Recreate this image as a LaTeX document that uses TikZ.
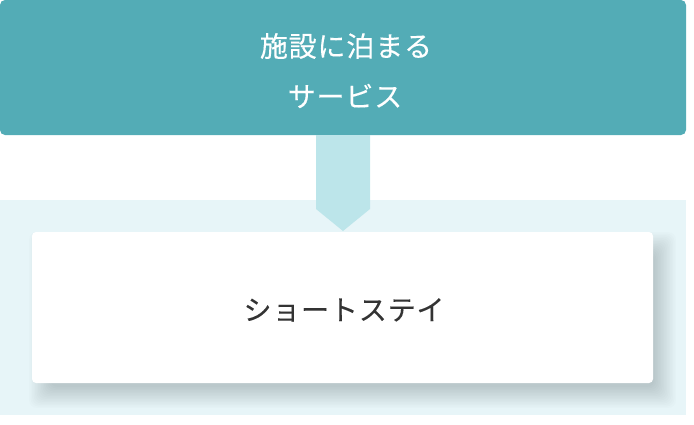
\documentclass[tikz,border=0pt]{standalone}
\usepackage{fontspec}
\newfontfamily\jpfont[LetterSpace=3,FakeBold=0.2]{Noto Sans CJK JP}
\definecolor{teal1}{HTML}{53ACB6}
\definecolor{arrowc}{HTML}{BCE5EA}
\definecolor{bgc}{HTML}{E7F5F8}
\definecolor{txtc}{HTML}{333333}
\tikzset{
  boxnode/.style={draw=none, inner sep=0pt, outer sep=0pt, rectangle},
  toptext/.style={text=white, font=\jpfont\fontsize{28}{28}\selectfont, inner sep=0pt},
  bottext/.style={text=txtc, font=\jpfont\fontsize{28}{28}\selectfont, inner sep=0pt},
  shadowlayer/.style={fill=black, fill opacity=0.012, rounded corners=8pt},
}
\begin{document}
\begin{tikzpicture}[x=1pt,y=-1pt]
\useasboundingbox (0,0) rectangle (694,424);
% light background band
\node[boxnode, fill=bgc, minimum width=686pt, minimum height=215pt] (band) at (343,307.5) {};
% top box
\node[boxnode, fill=teal1, rounded corners=5pt, minimum width=686pt, minimum height=135pt] (top) at (343,67.5) {};
% arrow chevron
\coordinate (a1) at (316,135);
\coordinate (a2) at (370,135);
\coordinate (a3) at (370,209);
\coordinate (tip) at (343,231);
\coordinate (a5) at (316,209);
\fill[arrowc] (a1) -- (a2) -- (a3) -- (tip) -- (a5) -- cycle;
% shadow of white box
\coordinate (snw) at (32,232);
\coordinate (sse) at (653,383);
\foreach \r in {-8,-6.5,...,13}{
  \fill[shadowlayer] ([shift={(10-\r,13-\r)}]snw) rectangle ([shift={(10+\r,12+\r)}]sse);
}
% white box
\node[boxnode, fill=white, rounded corners=4pt, minimum width=621pt, minimum height=151pt] (stay) at (342.5,307.5) {};
% texts
\node[toptext] (t1) at (346,46) {施設に泊まる};
\node[toptext] (t2) at (345,96) {サービス};
\node[bottext] (t3) at (344,310) {ショートステイ};
\end{tikzpicture}
\end{document}
